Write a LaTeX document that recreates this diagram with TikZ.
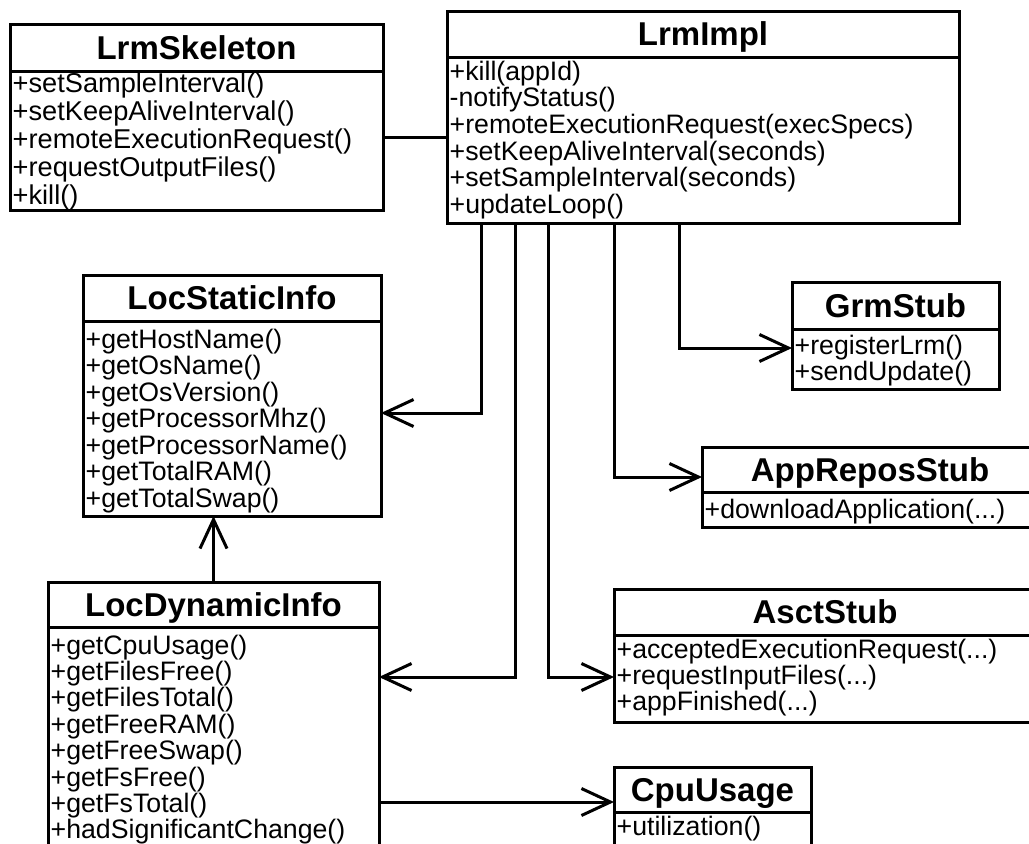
\documentclass[tikz,border=0pt]{standalone}
\usepackage{fontspec}
\setmainfont{Liberation Sans}
\usetikzlibrary{arrows.meta,calc}

\tikzset{
  classbox/.style={draw, line width=3pt, rectangle, outer sep=0pt, inner sep=0pt,
                   anchor=north west, fill=white},
  heading/.style={anchor=base, inner sep=0pt, font=\fontsize{33}{36}\selectfont\bfseries},
  member/.style={anchor=base west, inner sep=0pt, font=\fontsize{26.7}{28}\selectfont},
  divider/.style={line width=3pt},
  link/.style={line width=3pt},
  assoc/.style={link, -{Straight Barb[length=29pt, width=27pt, line width=3pt]}},
}

% three literal dots, kept out of sight of \foreach's range syntax
\newcommand\argdots{...}
% divider line and class name of a class box
\newcommand\classhead[3]{%
  \draw[divider] ($(#1.north west)+(0,#2)$) -- ($(#1.north east)+(0,#2)$);
  \node[heading] (#1-title) at ($(#1.north)+(0,#2/2+11.5)$) {#3};
}
% operations of a class box: [style] name, first baseline offset, line step, list
\newcommand\classrows[5][]{%
  \foreach \txt [count=\k from 0] in {#5}
    \node[member,#1] (#2-m\k) at ($(#2.north west)+(2.5,#3+\k*#4)$) {\txt};
}

\begin{document}
\begin{tikzpicture}[x=1pt, y=-1pt]
\useasboundingbox (0,0) rectangle (1029,844);
\fill[white] (0,0) rectangle (1029,844);
\clip (0,0) rectangle (1029,844);

% ---- class boxes
\node[classbox, minimum width=373pt, minimum height=186pt] (skel)   at (10,24)   {};
\node[classbox, minimum width=512pt, minimum height=212pt] (impl)   at (447,11)  {};
\node[classbox, minimum width=298pt, minimum height=241pt] (static) at (83,275)  {};
\node[classbox, minimum width=207pt, minimum height=107pt] (grm)    at (792,282) {};
\node[classbox, minimum width=336pt, minimum height=80pt]  (repos)  at (702,447) {};
\node[classbox, minimum width=331pt, minimum height=290pt] (dyn)    at (48,582)  {};
\node[classbox, minimum width=422pt, minimum height=133pt] (asct)   at (614,589) {};
\node[classbox, minimum width=197pt, minimum height=110pt] (cpu)    at (614,767) {};

% ---- headers
\classhead{skel}{47}{LrmSkeleton}
\classhead{impl}{46}{LrmImpl}
\classhead{static}{46}{LocStaticInfo}
\classhead{grm}{47}{GrmStub}
\classhead{repos}{45}{AppReposStub}
\classhead{dyn}{45}{LocDynamicInfo}
\classhead{asct}{46}{AsctStub}
\classhead{cpu}{45}{CpuUsage}

% ---- operations
\classrows[font=\fontsize{27.2}{28}\selectfont]{skel}{68}{28}{+setSampleInterval(),+setKeepAliveInterval(),+remoteExecutionRequest(),+requestOutputFiles(),+kill()}
\classrows{impl}{69}{26.7}{+kill(appId),-notifyStatus(),+remoteExecutionRequest(execSpecs),+setKeepAliveInterval(seconds),+setSampleInterval(seconds),+updateLoop()}
\classrows{static}{73}{26.5}{+getHostName(),+getOsName(),+getOsVersion(),+getProcessorMhz(),+getProcessorName(),+getTotalRAM(),+getTotalSwap()}
\classrows{grm}{72}{26}{+registerLrm(),+sendUpdate()}
\classrows{repos}{71}{26}{+downloadApplication(\argdots)}
\classrows{dyn}{72}{26.4}{+getCpuUsage(),+getFilesFree(),+getFilesTotal(),+getFreeRAM(),+getFreeSwap(),+getFsFree(),+getFsTotal(),+hadSignificantChange()}
\classrows{asct}{69}{26}{+acceptedExecutionRequest(\argdots),+requestInputFiles(\argdots),+appFinished(\argdots)}
\classrows{cpu}{68}{26}{+utilization()}

% ---- connectors
\draw[link]  ($(skel.north east)+(0,113)$) -- ($(impl.north west)+(0,126)$);
\draw[assoc] ($(impl.south west)+(34,0)$)  |- ($(static.north east)+(0,138)$);
\draw[assoc] ($(impl.south west)+(68,0)$)  |- ($(dyn.north east)+(0,95)$);
\draw[assoc] ($(impl.south west)+(101,0)$) |- ($(asct.north west)+(0,88)$);
\draw[assoc] ($(impl.south west)+(167,0)$) |- ($(repos.north west)+(0,30)$);
\draw[assoc] ($(impl.south west)+(232,0)$) |- ($(grm.north west)+(0,66)$);
\draw[assoc] (dyn.north) -- (dyn.north |- static.south);
\draw[assoc] ($(dyn.north east)+(0,220)$) -- ($(cpu.north west)+(0,35)$);
\end{tikzpicture}
\end{document}
